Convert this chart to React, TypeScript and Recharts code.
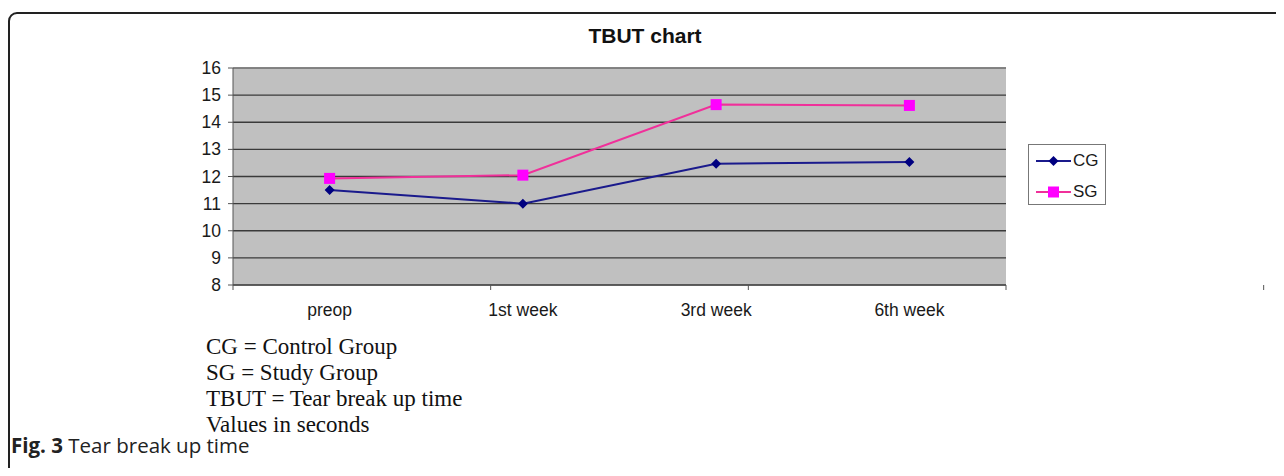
import React from 'react';
import { LineChart, Line, XAxis, YAxis, CartesianGrid, ReferenceLine } from 'recharts';

const weeks = ['preop', '1st week', '3rd week', '6th week'];
const cgValues = [11.5, 11.0, 12.47, 12.53];
const sgValues = [11.93, 12.05, 14.65, 14.62];
const yTicks = [8, 9, 10, 11, 12, 13, 14, 15, 16];
const bandTicks = [0, 1, 2, 3, 4];
const notes = ['CG = Control Group', 'SG = Study Group', 'TBUT = Tear break up time', 'Values in seconds'];

const data = weeks.map((w, i) => ({ week: w, CG: cgValues[i], SG: sgValues[i] }));

const AXIS_FONT = '"Liberation Sans", Arial, sans-serif';

const Diamond = (props: any) => {
  const { cx, cy } = props;
  if (cx == null || cy == null) return null;
  return <path d={`M${cx},${cy - 5}L${cx + 5},${cy}L${cx},${cy + 5}L${cx - 5},${cy}Z`} fill="#000080" />;
};

const Square = (props: any) => {
  const { cx, cy } = props;
  if (cx == null || cy == null) return null;
  return <rect x={cx - 5.5} y={cy - 5.5} width={11} height={11} fill="#FF00FF" />;
};

const XTick = ({ x, y, payload }: any) => (
  <text x={x} y={y + 22} textAnchor="middle" fontSize={17.5} fontFamily={AXIS_FONT} fill="#1a1a1a">
    {payload.value}
  </text>
);

const YTick = ({ x, y, payload }: any) => (
  <text x={x - 5} y={y + 6} textAnchor="end" fontSize={17.5} fontFamily={AXIS_FONT} fill="#1a1a1a">
    {payload.value}
  </text>
);

export default function App() {
  return (
    <div style={{ position: 'relative', width: 1284, height: 476, margin: -8, overflow: 'hidden', background: '#fff' }}>
      <div
        style={{
          position: 'absolute', left: 8, top: 12, width: 1400, height: 470,
          border: '2px solid #222', borderRadius: 9, boxSizing: 'border-box',
        }}
      />
      <div
        style={{
          position: 'absolute', left: 0, width: 1290, top: 24, textAlign: 'center',
          fontFamily: AXIS_FONT, fontWeight: 'bold', fontSize: 21, color: '#111',
        }}
      >
        TBUT chart
      </div>
      <div style={{ position: 'absolute', left: 0, top: 0 }}>
        <LineChart width={1284} height={476} data={data} margin={{ top: 68, right: 278, left: 173, bottom: 160 }}>
          <CartesianGrid vertical={false} stroke="#3a3a3a" strokeWidth={1.3} fill="#C0C0C0" />
          <XAxis
            xAxisId="band"
            type="number"
            domain={[0, 4]}
            ticks={bandTicks}
            allowDataOverflow
            height={1}
            tick={() => <g />}
            tickSize={5}
            stroke="#555"
          />
          <XAxis
            dataKey="week"
            xAxisId="cat"
            height={30}
            padding={{ left: 96.6, right: 96.6 }}
            axisLine={false}
            tickLine={false}
            tick={<XTick />}
          />
          <YAxis
            domain={[8, 16]}
            ticks={yTicks}
            width={60}
            stroke="#555"
            tickSize={5}
            tick={<YTick />}
          />
          <ReferenceLine y={16} xAxisId="cat" stroke="#8c8c8c" strokeWidth={1.5} />
          <ReferenceLine x={4} xAxisId="band" stroke="#8c8c8c" strokeWidth={1.5} />
          <Line
            xAxisId="cat"
            dataKey="CG"
            stroke="#1a1a8c"
            strokeWidth={2}
            dot={<Diamond />}
            activeDot={false}
            isAnimationActive={false}
          />
          <Line
            xAxisId="cat"
            dataKey="SG"
            stroke="#F0309A"
            strokeWidth={2}
            dot={<Square />}
            activeDot={false}
            isAnimationActive={false}
          />
        </LineChart>
      </div>
      <div
        style={{
          position: 'absolute', left: 1028, top: 144, width: 78, height: 61, boxSizing: 'border-box',
          border: '1px solid #777', background: '#fff', fontFamily: AXIS_FONT, fontSize: 17, color: '#1a1a1a',
        }}
      >
        {[
          { name: 'CG', color: '#1a1a8c', marker: <path d="M17.5,5 L22.5,10 L17.5,15 L12.5,10Z" fill="#000080" /> },
          { name: 'SG', color: '#F0309A', marker: <rect x={12} y={4.5} width={11} height={11} fill="#FF00FF" /> },
        ].map((e, i) => (
          <div key={e.name} style={{ position: 'absolute', left: 7, top: 6 + i * 31, display: 'flex', alignItems: 'center', height: 20 }}>
            <svg width={36} height={20}>
              <line x1={0} y1={10} x2={35} y2={10} stroke={e.color} strokeWidth={2} />
              {e.marker}
            </svg>
            <span style={{ marginLeft: 1 }}>{e.name}</span>
          </div>
        ))}
      </div>
      <div
        style={{
          position: 'absolute', left: 206, top: 334, fontFamily: '"Liberation Serif", "DejaVu Serif", serif',
          fontSize: 23, lineHeight: '26px', color: '#111',
        }}
      >
        {notes.map((n) => (
          <div key={n}>{n}</div>
        ))}
      </div>
      <div
        style={{
          position: 'absolute', left: 11, top: 431, fontFamily: '"Open Sans", "Noto Sans", sans-serif',
          fontSize: 20.5, color: '#222',
        }}
      >
        <b>Fig. 3</b> Tear break up time
      </div>
    </div>
  );
}
